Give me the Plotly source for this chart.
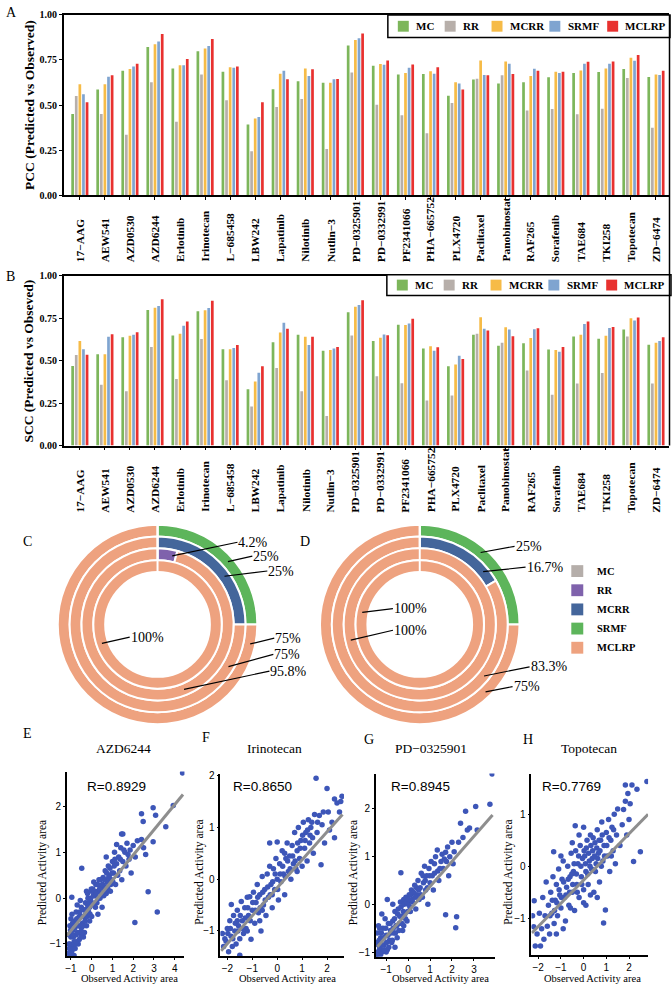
import math
import plotly.graph_objects as go

W, H = 672, 991


def fx(p):
    return p / W


def fy(p):
    return 1 - p / H


# ---------------- DATA ----------------
DRUGS = ["17−AAG", "AEW541", "AZD0530", "AZD6244", "Erlotinib", "Irinotecan", "L−685458",
         "LBW242", "Lapatinib", "Nilotinib", "Nutlin−3", "PD−0325901", "PD−0332991",
         "PF2341066", "PHA−665752", "PLX4720", "Paclitaxel", "Panobinostat", "RAF265",
         "Sorafenib", "TAE684", "TKI258", "Topotecan", "ZD−6474"]
SERIES = ["MC", "RR", "MCRR", "SRMF", "MCLRP"]

PCC_MC = [0.45, 0.586, 0.69, 0.822, 0.703, 0.799, 0.685, 0.392, 0.588, 0.632, 0.623, 0.83,
          0.718, 0.67, 0.672, 0.551, 0.641, 0.619, 0.626, 0.654, 0.678, 0.683, 0.70, 0.656]
PCC_RR = [0.55, 0.45, 0.335, 0.626, 0.407, 0.67, 0.527, 0.244, 0.489, 0.533, 0.256, 0.68,
          0.502, 0.443, 0.344, 0.511, 0.646, 0.665, 0.469, 0.478, 0.449, 0.48, 0.65, 0.374]
PCC_MCRR = [0.615, 0.615, 0.70, 0.837, 0.72, 0.813, 0.709, 0.425, 0.674, 0.703, 0.623, 0.861,
            0.727, 0.678, 0.687, 0.626, 0.747, 0.742, 0.661, 0.685, 0.692, 0.703, 0.762, 0.67]
PCC_SRMF = [0.56, 0.657, 0.714, 0.852, 0.72, 0.828, 0.707, 0.434, 0.69, 0.661, 0.643, 0.87,
            0.723, 0.707, 0.674, 0.619, 0.667, 0.729, 0.701, 0.678, 0.729, 0.729, 0.745, 0.667]
PCC_MCLRP = [0.516, 0.665, 0.729, 0.894, 0.756, 0.866, 0.714, 0.515, 0.643, 0.698, 0.645, 0.897,
             0.747, 0.725, 0.709, 0.586, 0.665, 0.672, 0.69, 0.685, 0.74, 0.742, 0.778, 0.69]

SCC_MC = [0.469, 0.538, 0.637, 0.798, 0.648, 0.79, 0.567, 0.331, 0.608, 0.652, 0.558, 0.785,
          0.615, 0.712, 0.571, 0.467, 0.652, 0.587, 0.602, 0.565, 0.642, 0.629, 0.683, 0.594]
SCC_RR = [0.533, 0.358, 0.32, 0.581, 0.392, 0.627, 0.385, 0.23, 0.456, 0.32, 0.174, 0.648,
          0.408, 0.367, 0.266, 0.295, 0.658, 0.606, 0.442, 0.30, 0.365, 0.427, 0.642, 0.365]
SCC_MCRR = [0.615, 0.538, 0.646, 0.812, 0.658, 0.796, 0.567, 0.377, 0.665, 0.64, 0.562, 0.817,
            0.635, 0.71, 0.585, 0.477, 0.756, 0.696, 0.633, 0.563, 0.652, 0.646, 0.75, 0.606]
SCC_SRMF = [0.567, 0.64, 0.652, 0.821, 0.706, 0.81, 0.575, 0.429, 0.723, 0.592, 0.571, 0.827,
            0.654, 0.719, 0.558, 0.529, 0.687, 0.683, 0.685, 0.552, 0.715, 0.692, 0.737, 0.615]
SCC_MCLRP = [0.535, 0.656, 0.667, 0.862, 0.731, 0.852, 0.592, 0.467, 0.688, 0.64, 0.581, 0.856,
             0.65, 0.746, 0.579, 0.51, 0.677, 0.644, 0.69, 0.581, 0.731, 0.698, 0.754, 0.637]

Y_TICKS = [0.0, 0.25, 0.5, 0.75, 1.0]

# donut data: rings from outer to inner
C_RING_LABELS = [["SRMF", "MCLRP"], ["MCRR", "MCLRP"], ["RR", "MCLRP"], ["MCLRP"]]
C_RING_VALUES = [[25, 75], [25, 75], [4.2, 95.8], [100]]
D_RING_LABELS = [["SRMF", "MCLRP"], ["MCRR", "MCLRP"], ["MCLRP"], ["MCLRP"]]
D_RING_VALUES = [[25, 75], [16.7, 83.3], [100], [100]]
DONUT_LEGEND = ["MC", "RR", "MCRR", "SRMF", "MCLRP"]

# scatter panels
SCATTER_DRUGS = ["AZD6244", "Irinotecan", "PD−0325901", "Topotecan"]
R_VALUES = [0.8929, 0.8650, 0.8945, 0.7769]

E_PTS = [(-1.1, -1.2), (-1.05, -1.0), (-1.0, -0.85), (-0.95, -1.15), (-0.9, -0.7), (-0.85, -0.95),
         (-0.8, -0.5), (-1.05, -0.6), (-0.95, -0.35), (-0.85, -1.25), (-1.0, -0.45), (-0.9, -1.05),
         (-1.1, -0.8), (-1.0, -1.25), (-0.75, -0.8), (-0.7, -0.6), (-0.65, -1.0), (-0.6, -0.4),
         (-0.55, -0.75), (-0.5, -0.2), (-0.45, -0.55), (-0.75, -0.3), (-0.6, -0.9), (-0.5, -0.65),
         (-0.7, -0.15), (-0.4, -0.85), (-0.65, -0.45), (-0.55, -0.05), (-0.8, -1.1), (-0.35, -0.4),
         (-0.3, -0.1), (-0.25, -0.6), (-0.2, 0.1), (-0.15, -0.3), (-0.1, -0.5), (-0.05, 0.0),
         (-0.35, -0.75), (-0.25, 0.15), (-0.1, -0.2), (-0.3, -0.35), (0.0, -0.4), (-0.2, -0.15),
         (0.05, 0.2), (0.1, -0.15), (0.15, 0.05), (0.2, 0.3), (0.25, -0.1), (0.3, 0.15), (0.35, 0.4),
         (0.4, 0.0), (0.45, 0.25), (0.5, -0.2), (0.1, 0.35), (0.3, -0.35), (0.0, 0.15), (0.55, 0.45),
         (0.6, 0.2), (0.65, 0.6), (0.7, 0.1), (0.75, 0.35), (0.8, 0.7), (0.85, 0.5), (0.9, 0.15),
         (0.95, 0.4), (1.0, 0.8), (0.7, 0.9), (1.05, 0.55), (1.1, 1.0), (1.15, 0.3), (1.2, 0.75),
         (1.3, 0.9), (1.35, 0.6), (1.4, 1.1), (1.45, 0.4), (1.5, 0.8), (1.44, 1.4), (1.2, 1.17),
         (1.5, 1.4), (1.6, 1.0), (1.65, 0.7), (1.7, 1.2), (1.8, 0.85), (1.85, 1.05), (1.9, 0.55),
         (2.0, 1.15), (2.1, 0.9), (2.2, 1.25), (2.08, -0.53), (2.40, 1.28), (2.40, 1.84),
         (2.48, 1.67), (2.96, 1.97), (3.08, 1.81), (2.96, 1.23), (3.57, 1.56), (3.93, 2.02),
         (4.38, 2.73), (2.72, 0.14), (3.16, -0.30), (-0.48, 0.65), (-0.96, 0.02), (2.5, 1.1), (2.6, 0.95),
         (-1.08, -1.1), (-1.02, -0.7), (-0.98, -1.2), (-0.92, -0.55), (-0.88, -0.85), (-0.82, -0.65),
         (-0.78, -1.0), (-0.72, -0.45), (-0.68, -0.75), (-0.62, -0.6), (-0.58, -0.3), (-0.52, -0.85),
         (-0.48, -0.4), (-0.42, -0.25), (-0.38, -0.6), (-0.32, -0.5), (-0.28, -0.25), (-0.22, -0.4),
         (-0.18, 0.0), (-0.12, -0.1), (-0.08, -0.35), (-0.02, 0.2), (0.02, -0.1), (0.08, 0.05),
         (0.12, 0.15), (0.18, -0.2), (0.22, 0.1), (0.28, 0.3), (0.32, 0.0), (0.38, 0.2), (0.42, 0.4),
         (0.48, 0.1), (0.52, 0.3), (0.58, 0.05), (0.62, 0.4), (0.68, 0.25), (0.72, 0.55), (0.78, 0.2),
         (0.82, 0.45), (0.88, 0.65), (0.92, 0.3), (0.98, 0.55), (1.02, 0.35), (1.08, 0.7), (1.12, 0.85),
         (1.25, 0.5), (1.38, 0.85), (1.55, 1.05), (1.75, 0.95), (-1.1, -1.0), (-1.05, -1.25),
         (-0.95, -0.8), (-0.75, -0.95), (-0.45, -0.75)]
F_PTS = [(-2.2, -1.05), (-2.15, -1.3), (-2.05, -1.2), (-2.0, -0.95), (-1.95, -1.4), (-1.9, -0.8),
         (-1.85, -1.1), (-1.84, -0.49), (-1.8, -1.3), (-1.75, -0.7), (-1.7, -1.0), (-1.65, -1.25),
         (-1.6, -0.6), (-1.55, -0.9), (-1.5, -1.47), (-1.5, -1.15), (-1.44, -0.43), (-1.4, -0.8),
         (-1.35, -1.05), (-1.3, -0.55), (-1.25, -0.95), (-1.2, -0.35), (-1.15, -0.7), (-1.1, -0.34),
         (-1.05, -1.16), (-1.0, -0.6), (-0.95, -0.25), (-0.9, -0.85), (-0.85, -0.45), (-0.8, -0.1),
         (-0.75, -0.65), (-0.7, -0.3), (-0.65, -1.0), (-0.6, 0.05), (-0.55, -0.5), (-0.5, -0.2),
         (-0.45, -0.7), (-0.4, 0.1), (-0.35, -0.35), (-0.3, 0.25), (-0.25, -0.1), (-0.2, -0.55),
         (-0.15, 0.2), (-0.1, -0.2), (-0.05, 0.4), (0.0, 0.0), (0.05, -0.4), (0.1, 0.3), (0.15, -0.05),
         (0.2, 0.55), (0.25, 0.1), (0.3, -0.3), (0.35, 0.4), (0.4, 0.7), (0.45, 0.15), (0.5, 0.45),
         (-0.3, 0.7), (0.0, 0.72), (0.55, 0.0), (0.6, 0.65), (0.65, 0.3), (0.7, 0.9), (0.75, 0.2),
         (0.8, 0.55), (0.85, 1.0), (0.9, 0.4), (0.95, 0.75), (1.0, 0.25), (1.05, 1.1), (1.1, 0.6),
         (1.15, 0.9), (1.2, 0.35), (1.25, 1.15), (1.3, 0.7), (1.35, 1.0), (1.39, 1.1), (1.45, 0.5),
         (1.56, 1.95), (1.6, 0.9), (1.69, 1.23), (1.76, 0.28), (1.8, 1.05), (1.9, 0.7), (2.0, 1.75),
         (2.05, 1.3), (2.1, 0.95), (2.2, 1.1), (2.3, 1.55), (2.4, 1.47), (2.5, 1.3), (2.55, 1.5),
         (2.6, 1.6), (1.5, 1.25), (2.3, 0.8),
         (-2.1, -1.15), (-1.98, -1.05), (-1.88, -0.95), (-1.78, -1.15), (-1.68, -0.85), (-1.58, -1.0),
         (-1.48, -0.7), (-1.38, -0.95), (-1.28, -0.75), (-1.18, -0.55), (-1.08, -0.8), (-0.98, -0.45),
         (-0.88, -0.6), (-0.78, -0.35), (-0.68, -0.55), (-0.58, -0.25), (-0.48, -0.4), (-0.38, -0.15),
         (-0.28, -0.3), (-0.18, -0.05), (-0.08, 0.1), (0.02, -0.2), (0.12, 0.1), (0.22, 0.25),
         (0.32, 0.05), (0.42, 0.35), (0.52, 0.2), (0.62, 0.45), (0.72, 0.35), (0.82, 0.7), (0.92, 0.6),
         (1.02, 0.85), (1.12, 0.75), (1.22, 0.95), (1.32, 0.85), (1.42, 0.8), (1.62, 1.1), (1.85, 1.3),
         (-1.2, -1.0), (-0.7, -0.8), (-0.2, -0.3), (0.3, 0.5), (0.8, 0.15), (-0.6, -0.6), (-1.6, -0.8)]
G_PTS = [(-1.4, -1.05), (-1.35, -0.85), (-1.3, -0.95), (-1.25, -0.7), (-1.2, -1.0), (-1.15, -0.5),
         (-1.1, -0.85), (-1.05, -0.3), (-1.0, -0.65), (-0.95, -0.95), (-0.9, -0.4), (-0.85, -0.75),
         (-1.3, -0.5), (-1.2, -0.2), (-0.8, -0.55), (-1.4, -0.6), (-0.95, 0.1), (-0.7, 0.0),
         (-0.75, -0.8), (-0.7, -0.35), (-0.65, -0.6), (-0.6, -0.15), (-0.55, -0.45), (-0.5, -0.7),
         (-0.45, -0.1), (-0.4, -0.4), (-0.35, 0.05), (-0.3, -0.25), (-0.25, -0.55), (-0.2, 0.1),
         (-0.15, -0.2), (-0.1, 0.15), (-0.05, -0.35), (0.0, 0.0), (-0.33, 0.66), (0.05, 0.2),
         (0.1, -0.15), (0.15, 0.3), (0.2, 0.05), (0.3, 0.4), (0.35, -0.1), (0.4, 0.2), (0.45, 0.5),
         (0.5, 0.1), (0.55, 0.35), (0.6, 0.65), (0.65, 0.15), (0.7, 0.45), (0.75, 0.8), (0.8, 0.3),
         (0.85, 0.6), (0.9, 0.0), (0.95, 0.75), (1.0, 0.45), (1.05, 0.9), (1.1, 0.6), (1.15, 0.3),
         (1.2, 0.85), (1.25, 1.0), (1.33, 1.14), (1.35, 0.7), (1.4, 0.5), (1.5, 0.9), (1.55, 1.05),
         (1.6, 0.75), (1.71, 1.09), (1.71, -0.22), (1.75, 0.9), (1.8, 1.2), (1.85, 0.6), (1.9, 1.0),
         (2.0, 1.3), (2.05, 0.85), (2.1, 1.1), (2.17, -0.49), (2.21, -0.26), (2.39, 1.70),
         (2.62, 1.95), (2.7, 1.56), (3.08, 2.05), (3.15, 1.56), (3.73, 2.10), (3.83, 2.73),
         (2.3, 1.3), (2.5, 1.4), (2.8, 1.6), (-1.0, -1.0), (-0.6, -0.9), (-0.2, -0.45),
         (-1.42, -0.8), (-1.38, -1.0), (-1.32, -0.75), (-1.28, -0.9), (-1.22, -0.6), (-1.18, -0.85),
         (-1.12, -0.7), (-1.08, -0.95), (-1.02, -0.5), (-0.98, -0.8), (-0.92, -0.65), (-0.88, -0.9),
         (-0.82, -0.4), (-0.78, -0.6), (-0.72, -0.75), (-0.68, -0.5), (-0.62, -0.3), (-0.58, -0.6),
         (-0.52, -0.45), (-0.48, -0.2), (-0.42, -0.55), (-0.38, -0.25), (-0.32, -0.05), (-0.28, -0.4),
         (-0.22, -0.15), (-0.18, 0.0), (-0.12, -0.3), (-0.08, 0.05), (-0.02, -0.15), (0.02, 0.1),
         (0.08, -0.05), (0.12, 0.2), (0.18, 0.1), (0.25, 0.25), (0.32, 0.15), (0.38, 0.35),
         (0.48, 0.3), (0.58, 0.2), (0.68, 0.6), (0.78, 0.5), (0.88, 0.35), (0.98, 0.6), (1.2, 0.65),
         (1.45, 0.75), (1.65, 0.95), (-1.45, -1.05), (-1.35, -0.45), (-1.25, -1.05)]
H_PTS = [(-2.25, -0.95), (-2.2, -1.16), (-2.18, -0.66), (-2.13, -1.53), (-2.05, -1.3), (-1.95, -0.9),
         (-1.9, -1.53), (-1.85, -1.2), (-1.8, -0.6), (-1.75, -1.4), (-1.7, -0.95), (-1.65, -0.3),
         (-1.6, -1.15), (-1.55, -0.75), (-1.5, -1.3), (-1.45, -0.5), (-1.4, -0.9), (-1.35, -0.2),
         (-1.32, 0.28), (-1.3, -1.1), (-1.25, -0.65), (-1.2, -0.35), (-1.15, -0.95), (-1.1, -0.05),
         (-1.05, -0.55), (-1.0, -0.8), (-0.95, -0.25), (-0.9, 0.1), (-0.85, -0.6), (-0.8, -1.05),
         (-0.75, -0.4), (-0.7, 0.0), (-0.65, -0.75), (-0.6, -0.2), (-0.55, 0.25), (-0.5, -0.5),
         (-0.45, -0.1), (-0.4, -0.85), (-0.37, 0.78), (-0.35, 0.3), (-0.3, -0.35), (-0.25, 0.05),
         (-0.2, -0.6), (-0.15, 0.4), (-0.1, -0.2), (-0.05, 0.15), (0.0, -0.45), (0.0, 0.75),
         (0.05, 0.2), (0.1, -0.1), (0.15, 0.5), (0.2, -0.35), (0.25, 0.1), (0.3, 0.6), (0.35, -0.05),
         (0.4, 0.3), (0.45, -0.5), (0.5, 0.45), (-0.2, 0.6), (0.1, -0.75), (0.55, 0.05), (0.6, 0.7),
         (0.65, 0.25), (0.7, -0.3), (0.75, 0.5), (0.8, 0.85), (0.85, 0.1), (0.88, -1.09), (0.9, 0.4),
         (0.96, -0.84), (1.0, 0.65), (1.05, 0.2), (1.1, 0.9), (1.15, -0.1), (1.2, 0.5), (1.25, 0.75),
         (1.3, 0.3), (1.35, 1.0), (1.4, 0.05), (1.45, 0.6), (1.5, 1.1), (1.6, 0.4), (1.7, 0.8),
         (1.76, 1.09), (1.84, 1.25), (1.84, 1.56), (1.9, 0.6), (2.0, 0.9), (2.13, 1.56), (2.2, 0.09),
         (2.35, 1.48), (2.5, 0.28), (2.79, 1.63), (1.95, 1.4), (2.05, 1.2),
         (-1.48, -0.95), (-1.38, -0.65), (-1.28, -0.85), (-1.18, -0.7), (-1.08, -0.45), (-0.98, -0.6),
         (-0.88, -0.3), (-0.78, -0.55), (-0.68, -0.25), (-0.62, -0.5), (-0.52, -0.15), (-0.48, -0.35),
         (-0.42, 0.05), (-0.32, -0.15), (-0.28, -0.5), (-0.22, 0.2), (-0.12, 0.0), (-0.08, -0.35),
         (0.02, 0.3), (0.08, 0.05), (0.12, 0.35), (0.18, -0.15), (0.22, 0.25), (0.28, 0.0), (0.32, 0.4),
         (0.38, 0.15), (0.42, 0.55), (0.48, 0.2), (0.52, -0.1), (0.58, 0.35), (0.62, 0.15), (0.68, 0.5),
         (0.72, 0.3), (0.78, 0.0), (0.82, 0.6), (0.92, 0.2), (1.02, 0.4), (1.12, 0.55), (1.22, 0.2),
         (1.32, 0.7), (-0.58, -0.8), (-0.9, -1.2), (-1.2, -1.3), (0.0, -0.7), (0.3, -0.55), (-1.0, 0.2),
         (-0.5, 0.45), (0.6, -0.6)]

E_LINE = [(-1.2, -0.82), (4.4, 2.26)]
F_LINE = [(-2.25, -1.38), (2.62, 1.25)]
G_LINE = [(-1.4, -0.89), (3.85, 1.87)]
H_LINE = [(-2.28, -1.28), (2.84, 1.0)]

# ---------------- STYLE ----------------
SERIF = "Liberation Serif"
SANS = "Liberation Sans"
BAR_COLORS = ["#7DB65B", "#B7AFAA", "#F6BB47", "#7FA4D0", "#E8312F"]
PIE_COLORS = {"MC": "#B5AEAA", "RR": "#7F62AC", "MCRR": "#44669B", "SRMF": "#5DB55B",
              "MCLRP": "#EEA27F"}
DOT = "#3D56B8"

fig = go.Figure()
annotations = []
shapes = []

# ---------------- BAR PANELS ----------------
bar_panels = [
    dict(ax="x", ay="y", vals=[PCC_MC, PCC_RR, PCC_MCRR, PCC_SRMF, PCC_MCLRP],
         top=9, bottom=191.5, label_bottom=261, title="PCC (Predicted vs Observed)",
         letter="A", letter_y=7, legend_box=(387, 9, 670, 32)),
    dict(ax="x2", ay="y2", vals=[SCC_MC, SCC_RR, SCC_MCRR, SCC_SRMF, SCC_MCLRP],
         top=273, bottom=445, label_bottom=514.5, title="SCC (Predicted vs Obseved)",
         letter="B", letter_y=274, legend_box=(386, 272, 671, 293)),
]
LEG_SQ_OFF = [10, 57, 104, 162, 220]
LEG_TX_OFF = [26, 73, 121, 179, 236]

layout_axes = {}
for k, p in enumerate(bar_panels):
    for name, col, vals in zip(SERIES, BAR_COLORS, p["vals"]):
        fig.add_trace(go.Bar(x=DRUGS, y=vals, name=name, marker=dict(color=col, line=dict(width=0)),
                             xaxis=p["ax"], yaxis=p["ay"], showlegend=False))
    xname = "xaxis" if k == 0 else "xaxis2"
    yname = "yaxis" if k == 0 else "yaxis2"
    layout_axes[xname] = dict(domain=[fx(62), fx(669)], anchor=p["ay"], type="category",
                              categoryorder="array", categoryarray=DRUGS,
                              range=[-0.64, 23.52], showline=True, linecolor="black", linewidth=1.5,
                              mirror=True, ticks="outside", ticklen=3, tickcolor="black",
                              showticklabels=False, showgrid=False, zeroline=False, fixedrange=True)
    layout_axes[yname] = dict(domain=[fy(p["bottom"]), fy(p["top"])], anchor=p["ax"], range=[0, 1],
                              tickvals=Y_TICKS, ticktext=[f"{v:.2f}" for v in Y_TICKS],
                              tickfont=dict(family=SERIF, size=10, color="black", weight="bold"),
                              showline=True, linecolor="black", linewidth=1.5, ticks="outside",
                              ticklen=3, tickcolor="black", showgrid=False, zeroline=False,
                              fixedrange=True)
    # rotated drug labels, aligned at their start
    for d in DRUGS:
        annotations.append(dict(x=d, y=fy(p["label_bottom"]), xref=p["ax"], yref="paper",
                                text=d, textangle=-90, showarrow=False, xanchor="center",
                                yanchor="bottom",
                                font=dict(family=SERIF, size=11.4, color="black", weight="bold")))
    annotations.append(dict(x=fx(27), y=fy((p["top"] + p["bottom"]) / 2), xref="paper", yref="paper",
                            text=p["title"], textangle=-90, showarrow=False,
                            xanchor="center", yanchor="middle",
                            font=dict(family=SERIF, size=13.5, color="black", weight="bold")))
    annotations.append(dict(x=fx(2), y=fy(p["letter_y"]), xref="paper", yref="paper",
                            text=p["letter"], showarrow=False, xanchor="left", yanchor="middle",
                            font=dict(family=SERIF, size=14, color="black")))
    # legend box
    bx0, by0, bx1, by1 = p["legend_box"]
    shapes.append(dict(type="rect", xref="paper", yref="paper", x0=fx(bx0), x1=fx(bx1),
                       y0=fy(by1), y1=fy(by0), line=dict(color="black", width=1.5),
                       fillcolor="white", layer="above"))
    cy = (by0 + by1) / 2
    for name, col, so, to in zip(SERIES, BAR_COLORS, LEG_SQ_OFF, LEG_TX_OFF):
        shapes.append(dict(type="rect", xref="paper", yref="paper", x0=fx(bx0 + so),
                           x1=fx(bx0 + so + 11), y0=fy(cy + 5.5), y1=fy(cy - 5.5),
                           line=dict(width=0), fillcolor=col, layer="above"))
        annotations.append(dict(x=fx(bx0 + to), y=fy(cy), xref="paper", yref="paper", text=name,
                                showarrow=False, xanchor="left", yanchor="middle",
                                font=dict(family=SERIF, size=11, color="black", weight="bold")))

# right frame line of panels A/B
shapes.append(dict(type="line", xref="paper", yref="paper", x0=fx(669.5), x1=fx(669.5),
                   y0=fy(445), y1=fy(9), line=dict(color="black", width=1.5)))

# ---------------- DONUTS ----------------
DONUT_CENTERS = [(156, 626), (419, 626)]
RING_OUTER = [101, 89, 77, 65]
RING_W = 12
donuts = [(C_RING_LABELS, C_RING_VALUES), (D_RING_LABELS, D_RING_VALUES)]
for (cx, cy), (labs, vals) in zip(DONUT_CENTERS, donuts):
    for r, lab, val in zip(RING_OUTER, labs, vals):
        fig.add_trace(go.Pie(labels=lab, values=val, sort=False, direction="clockwise", rotation=0,
                             hole=(r - RING_W) / r, textinfo="none", showlegend=False,
                             marker=dict(colors=[PIE_COLORS[l] for l in lab],
                                         line=dict(color="white", width=2)),
                             domain=dict(x=[fx(cx - r), fx(cx + r)], y=[fy(cy + r), fy(cy - r)])))
    shapes.append(dict(type="line", xref="paper", yref="paper", x0=fx(cx), x1=fx(cx),
                       y0=fy(cy - RING_OUTER[-1] + RING_W), y1=fy(cy - RING_OUTER[0] - 1),
                       line=dict(color="white", width=2), layer="above"))

# pointer labels: (donut, ring, slice, angle, text_left_px, text_y_px)
POINTERS = [(0, 2, 0, 12, 236, 543), (0, 0, 0, 48, 251, 557), (0, 1, 0, 54, 266, 572),
            (0, 0, 1, 102, 273, 640), (0, 1, 1, 121, 272, 656.5), (0, 2, 1, 158, 268, 673.5),
            (0, 3, 0, 251, 128, 639),
            (1, 0, 0, 40, 514, 547), (1, 1, 0, 50, 525, 568), (1, 3, 0, 282, 392, 610),
            (1, 2, 0, 257, 392, 632), (1, 1, 1, 129, 529, 669), (1, 0, 1, 136, 512, 689)]
for di, ri, si, ang, tx, ty in POINTERS:
    cx, cy = DONUT_CENTERS[di]
    rm = RING_OUTER[ri] - RING_W / 2
    px = cx + rm * math.sin(math.radians(ang))
    py = cy - rm * math.cos(math.radians(ang))
    v = donuts[di][1][ri][si]
    annotations.append(dict(x=fx(px), y=fy(py), xref="paper", yref="paper", text=f"{v:g}%",
                            showarrow=True, arrowhead=0, arrowwidth=1.2, arrowcolor="black",
                            ax=tx - px, ay=ty - py, axref="pixel", ayref="pixel",
                            xanchor="left", yanchor="middle", standoff=0, borderpad=0,
                            font=dict(family=SERIF, size=14, color="black")))

for lt, lx, ly in [("C", 19, 542), ("D", 297, 542)]:
    annotations.append(dict(x=fx(lx), y=fy(ly), xref="paper", yref="paper", text=lt,
                            showarrow=False, xanchor="left", yanchor="middle",
                            font=dict(family=SERIF, size=14, color="black")))

# donut legend
for i, name in enumerate(DONUT_LEGEND):
    yc = 572 + 19.4 * i
    shapes.append(dict(type="rect", xref="paper", yref="paper", x0=fx(571), x1=fx(583),
                       y0=fy(yc + 6), y1=fy(yc - 6), line=dict(width=0),
                       fillcolor=PIE_COLORS[name]))
    annotations.append(dict(x=fx(595), y=fy(yc), xref="paper", yref="paper", text=name,
                            showarrow=False, xanchor="left", yanchor="middle",
                            font=dict(family=SERIF, size=10.5, color="black", weight="bold")))

# ---------------- SCATTER PANELS ----------------
scatter_panels = [
    dict(pts=E_PTS, line=E_LINE, xd=(65, 183), yd=(775, 962), xr=[-1.20, 4.47], yr=[-1.27, 2.76],
         xt=[-1, 0, 1, 2, 3, 4], yt=[-1, 0, 1, 2], letter=("E", 19, 736), title_x=122,
         r_x=83, xt_x=128, yt_x=40),
    dict(pts=F_PTS, line=F_LINE, xd=(219, 343), yd=(777, 962), xr=[-2.28, 2.68], yr=[-1.49, 2.04],
         xt=[-2, -1, 0, 1, 2], yt=[-1, 0, 1, 2], letter=("F", 199, 740), title_x=273,
         r_x=230, xt_x=286, yt_x=198),
    dict(pts=G_PTS, line=G_LINE, xd=(375, 494), yd=(777, 962.5), xr=[-1.47, 3.94], yr=[-1.10, 2.74],
         xt=[-1, 0, 1, 2, 3], yt=[-1, 0, 1, 2], letter=("G", 361, 742), title_x=430,
         r_x=388, xt_x=440, yt_x=352),
    dict(pts=H_PTS, line=H_LINE, xd=(531, 648), yd=(777, 961), xr=[-2.30, 2.84], yr=[-1.71, 1.78],
         xt=[-2, -1, 0, 1, 2], yt=[-1, 0, 1], letter=("H", 521, 742), title_x=589,
         r_x=540, xt_x=592, yt_x=508),
]
for i, (p, drug, rv) in enumerate(zip(scatter_panels, SCATTER_DRUGS, R_VALUES)):
    n = i + 3
    xa, ya = f"x{n}", f"y{n}"
    xs = [a for a, b in p["pts"]]
    ys = [b for a, b in p["pts"]]
    fig.add_trace(go.Scatter(x=xs, y=ys, mode="markers", xaxis=xa, yaxis=ya, showlegend=False,
                             marker=dict(color=DOT, size=5.5, line=dict(width=0))))
    fig.add_trace(go.Scatter(x=[a for a, b in p["line"]], y=[b for a, b in p["line"]],
                             mode="lines", xaxis=xa, yaxis=ya, showlegend=False,
                             line=dict(color="#8E8E8E", width=3)))
    ax_style = dict(showline=True, linecolor="black", linewidth=1.5, ticks="outside", ticklen=2,
                    tickcolor="black", showgrid=False, zeroline=False, fixedrange=True,
                    tickfont=dict(family=SANS, size=10, color="black"))
    layout_axes[f"xaxis{n}"] = dict(domain=[fx(p["xd"][0]), fx(p["xd"][1])], anchor=ya,
                                    range=p["xr"], tickvals=p["xt"], **ax_style)
    layout_axes[f"yaxis{n}"] = dict(domain=[fy(p["yd"][1]), fy(p["yd"][0])], anchor=xa,
                                    range=p["yr"], tickvals=p["yt"], **ax_style)
    lt, lx, ly = p["letter"]
    annotations.append(dict(x=fx(lx), y=fy(ly), xref="paper", yref="paper", text=lt,
                            showarrow=False, xanchor="left", yanchor="middle",
                            font=dict(family=SERIF, size=14, color="black")))
    annotations.append(dict(x=fx(p["title_x"]), y=fy(752), xref="paper", yref="paper", text=drug,
                            showarrow=False, xanchor="center", yanchor="middle",
                            font=dict(family=SERIF, size=13.5, color="black")))
    annotations.append(dict(x=fx(p["r_x"]), y=fy(790), xref="paper", yref="paper",
                            text=f"R={rv:.4f}", showarrow=False, xanchor="left", yanchor="middle",
                            font=dict(family=SANS, size=13.5, color="black")))
    annotations.append(dict(x=fx(p["xt_x"]), y=fy(984.5), xref="paper", yref="paper",
                            text="Observed Activity area", showarrow=False, xanchor="center",
                            yanchor="middle", borderpad=0,
                            font=dict(family=SERIF, size=10.5, color="black")))
    annotations.append(dict(x=fx(p["yt_x"]), y=fy(877), xref="paper", yref="paper",
                            text="Predicted Activity area", showarrow=False, textangle=-90,
                            xanchor="center", yanchor="middle",
                            font=dict(family=SERIF, size=11.5, color="black")))

fig.update_layout(
    width=W, height=H, autosize=False,
    margin=dict(l=0, r=0, t=0, b=0, pad=0),
    paper_bgcolor="white", plot_bgcolor="white",
    font=dict(family=SERIF, color="black"),
    barmode="group", bargap=0.28, bargroupgap=0.25,
    showlegend=False,
    annotations=annotations, shapes=shapes,
    **layout_axes,
)

fig.write_html("out.html", config={"displayModeBar": False})
